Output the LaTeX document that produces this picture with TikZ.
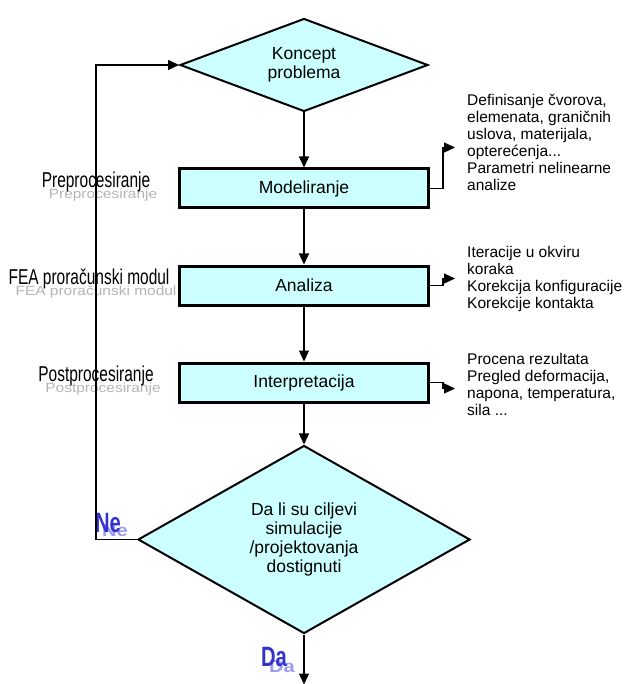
\documentclass[tikz,border=0pt]{standalone}
\usepackage{fontspec}
\setmainfont{Liberation Sans}
\usepackage{graphicx}
\usepackage{tikz}
\usetikzlibrary{shapes.geometric, arrows.meta, positioning}
\definecolor{boxcyan}{HTML}{CCFFFF}
\definecolor{nedablue}{HTML}{3333CC}
\definecolor{nedashade}{HTML}{9C9CF0}
\definecolor{shadegray}{HTML}{B4B4B4}
\newcommand{\narrowtxt}[1]{\scalebox{0.72}[1]{#1}}
\newcommand{\shadetxt}[1]{\scalebox{0.72}[0.62]{#1}}

\begin{document}
\begin{tikzpicture}[x=1pt, y=-1pt,
  decision/.style={diamond, draw=black, line width=2pt, fill=boxcyan, align=center, inner sep=0pt, font=\fontsize{17.5}{19}\selectfont},
  stepbox/.style={rectangle, draw=black, line width=3pt, fill=boxcyan, minimum width=249pt, minimum height=39pt, font=\fontsize{17.5}{19}\selectfont},
  note/.style={anchor=north west, align=left, inner sep=0pt, font=\fontsize{15.5}{17}\selectfont},
  side/.style={anchor=base, inner sep=0pt, font=\fontsize{21.5}{22}\selectfont},
  sideshade/.style={side, text=shadegray},
  answer/.style={anchor=base, inner sep=0pt, text=nedablue, font=\fontsize{28}{28}\bfseries\selectfont},
  answershade/.style={answer, text=nedashade},
  link/.style={-{Triangle[width=10pt,length=11pt]}, line width=1.3pt}]

  \useasboundingbox (0,0) rectangle (624,684);

  % glavni tok
  \node [decision, aspect=2.6, minimum width=248pt, minimum height=93pt] (koncept) at (304,65) {Koncept\\problema};
  \node [stepbox, below=55pt of koncept] (model) {Modeliranje};
  \node [stepbox, below=55pt of model] (analiza) {Analiza};
  \node [stepbox, below=55pt of analiza] (interp) {Interpretacija};
  \node [decision, aspect=1.75, minimum width=332pt, minimum height=188pt, below=41pt of interp] (cilj)
    {Da li su ciljevi\\simulacije\\/projektovanja\\dostignuti};

  % opisi desno
  \node [note] (defs) at (467,94) {Definisanje čvorova,\\elemenata, graničnih\\uslova, materijala,\\opterećenja...\\Parametri nelinearne\\analize};
  \node [note] (iter) at (467,246) {Iteracije u okviru\\koraka\\Korekcija konfiguracije\\Korekcije kontakta};
  \node [note] (rez) at (467,353) {Procena rezultata\\Pregled deformacija,\\napona, temperatura,\\sila ...};

  % faze levo
  \node [sideshade] (preS) at (103,199) {\shadetxt{Preprocesiranje}};
  \node [side] (pre) at (96,188) {\narrowtxt{Preprocesiranje}};
  \node [sideshade] (feaS) at (96,295) {\shadetxt{FEA proračunski modul}};
  \node [side] (fea) at (89,284) {\narrowtxt{FEA proračunski modul}};
  \node [sideshade] (postS) at (103,392) {\shadetxt{Postprocesiranje}};
  \node [side] (post) at (96,381) {\narrowtxt{Postprocesiranje}};

  \node [answershade] (neS) at (115,536) {\scalebox{0.72}[0.62]{Ne}};
  \node [answer] (ne) at (108,532) {\scalebox{0.72}[1]{Ne}};
  \node [answershade] (daS) at (282,672) {\scalebox{0.72}[0.62]{Da}};
  \node [answer] (da) at (274,666) {\scalebox{0.72}[1]{Da}};

  \draw[link] (koncept) -- (model);
  \draw[link] (model) -- (analiza);
  \draw[link] (analiza) -- (interp);
  \draw[link] (interp) -- (cilj);
  \draw[link] (cilj.south) -- ++(0,50);
  \draw[link] (cilj.west) -- ++(-41,0) |- (koncept.west);

  \draw[link] (model.east) -- ++(13,0) |- ++(12,-41);
  \draw[link] (analiza.east) -- ++(13,0) |- ++(12,-7);
  \draw[link] (interp.east) -- ++(13,0) |- ++(12,6);
\end{tikzpicture}
\end{document}
